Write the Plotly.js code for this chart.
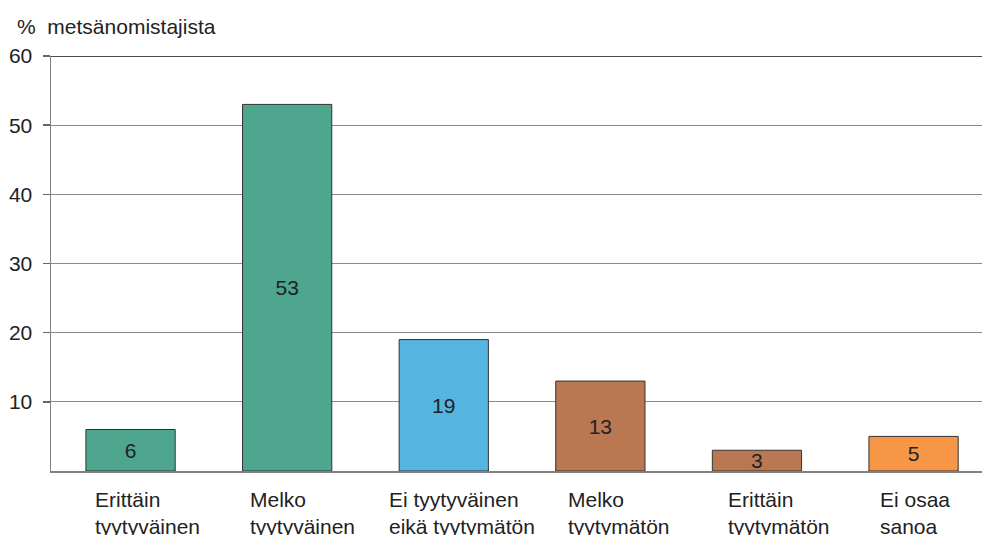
<!DOCTYPE html>
<html>
<head>
<meta charset="utf-8">
<script src="https://cdn.plot.ly/plotly-3.0.1.min.js"></script>
<style>
  html, body { margin: 0; padding: 0; background: #fff; }
  #chart { width: 982px; height: 535px; }
</style>
</head>
<body>
<div id="chart"></div>
<script>
// Tyytyväisyys: osuus metsänomistajista (%)
const categories = [
  "Erittäin<br>tyytyväinen",
  "Melko<br>tyytyväinen",
  "Ei tyytyväinen<br>eikä tyytymätön",
  "Melko<br>tyytymätön",
  "Erittäin<br>tyytymätön",
  "Ei osaa<br>sanoa"
];
const shares = [6, 53, 19, 13, 3, 5];
const barColors = ["#4ea68f", "#4ea68f", "#55b5e0", "#b97851", "#b97851", "#f79646"];
const yTickValues = [10, 20, 30, 40, 50, 60];
const yAxisLabel = "%\u00a0\u00a0metsänomistajista";

// horizontal nudge of each two-line category caption (px)
const captionShift = [-38, -39, -57, -34, -31, -36];

const FONT = "Liberation Sans, Arial, Helvetica, sans-serif";
const FS = 21;
const xIdx = categories.map((_, i) => i);

const trace = {
  type: "bar",
  x: xIdx,
  y: shares,
  width: 0.57,
  marker: { color: barColors, line: { color: "#333333", width: 1 } },
  text: shares.map(String),
  textposition: "inside",
  insidetextanchor: "middle",
  constraintext: "none",
  textangle: 0,
  textfont: { family: FONT, size: FS, color: "#222222" },
  hoverinfo: "skip",
  cliponaxis: false
};

const captions = categories.map((c, i) => ({
  x: i, xref: "x",
  y: 0, yref: "paper",
  xanchor: "left", yanchor: "top",
  xshift: captionShift[i], yshift: -15,
  align: "left",
  text: c,
  showarrow: false,
  font: { family: FONT, size: FS, color: "#222222" }
}));

const layout = {
  width: 982, height: 535,
  margin: { l: 51, r: 0, t: 56, b: 64, pad: 0 },
  paper_bgcolor: "#ffffff",
  plot_bgcolor: "#ffffff",
  showlegend: false,
  font: { family: FONT, size: FS, color: "#222222" },
  xaxis: {
    type: "linear",
    range: [-0.508, 5.437],
    showgrid: false,
    zeroline: false,
    showticklabels: false,
    ticks: "",
    showline: true,
    linecolor: "#808080",
    linewidth: 1.5,
    fixedrange: true
  },
  yaxis: {
    range: [0, 60],
    tickvals: yTickValues,
    ticktext: yTickValues.map(String),
    showgrid: true,
    gridcolor: "#8a8a8a",
    gridwidth: 1.2,
    zeroline: false,
    showline: true,
    linecolor: "#808080",
    linewidth: 1.5,
    ticks: "outside",
    ticklen: 7,
    tickcolor: "#666666",
    tickwidth: 1.5,
    ticklabelstandoff: 6,
    tickfont: { family: FONT, size: FS, color: "#222222" },
    fixedrange: true
  },
  shapes: [{
    type: "line", xref: "paper", x0: 0, x1: 1, yref: "y", y0: 60, y1: 60,
    line: { color: "#111111", width: 1.5 }, layer: "above"
  }],
  annotations: captions.concat([{
    x: -0.0385, xref: "paper", y: 1, yref: "paper",
    xanchor: "left", yanchor: "bottom", yshift: 16,
    text: yAxisLabel, showarrow: false,
    font: { family: FONT, size: FS, color: "#222222" }
  }])
};

Plotly.newPlot("chart", [trace], layout, { displayModeBar: false, staticPlot: true });
</script>
</body>
</html>
